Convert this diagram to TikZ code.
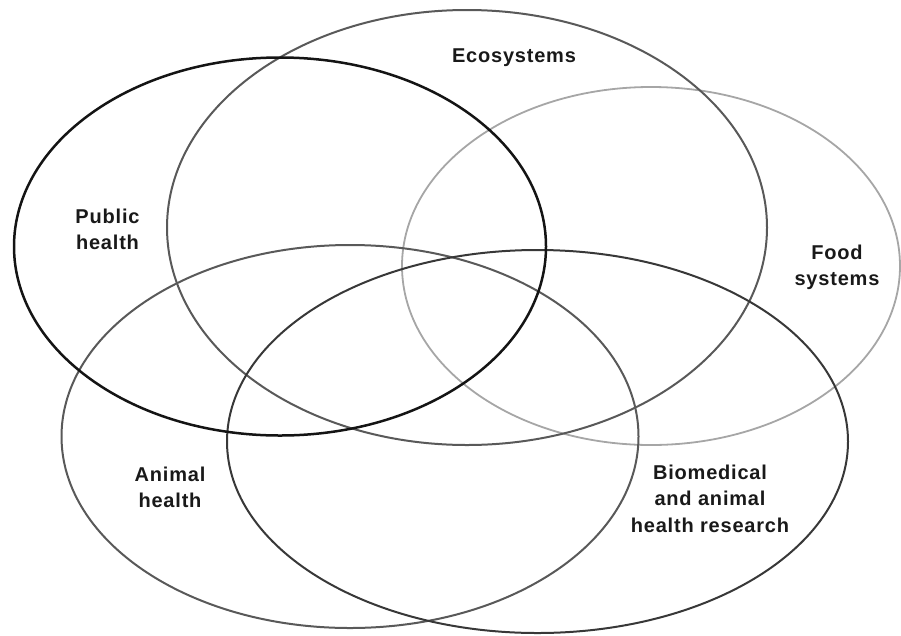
\documentclass[tikz,border=0pt]{standalone}
\usepackage{fontspec}
\setmainfont{Liberation Sans}[LetterSpace=4]
\begin{document}
\begin{tikzpicture}[x=1pt,y=-1pt,
  ring/.style={line width=2pt},
  lbl/.style={font=\fontsize{20}{26.5}\selectfont\bfseries, text=black!90, align=center, inner sep=0pt}]
\useasboundingbox (0,0) rectangle (901,635);
% ellipses
\draw[ring, draw=black!35, line width=1.8pt] (651,266) ellipse [x radius=249pt, y radius=179pt];
\draw[ring, draw=black!65] (467,227.5) ellipse [x radius=300pt, y radius=217.5pt];
\draw[ring, draw=black!65] (350,436.5) ellipse [x radius=288.5pt, y radius=191.5pt];
\draw[ring, draw=black!78] (537.5,441.5) ellipse [x radius=310.5pt, y radius=191.5pt];
\draw[ring, draw=black!92, line width=2.5pt] (280,246.5) ellipse [x radius=266pt, y radius=189pt];
% labels
\node[lbl] (eco) at (514,57.5) {Ecosystems};
\node[lbl] (pub) at (107.5,229.5) {Public\\health};
\node[lbl] (food) at (837,267.5) {Food\\systems};
\node[lbl] (ani) at (170,487.5) {Animal\\health};
\node[lbl] (bio) at (710,498.5) {Biomedical\\and animal\\health research};
\end{tikzpicture}
\end{document}
